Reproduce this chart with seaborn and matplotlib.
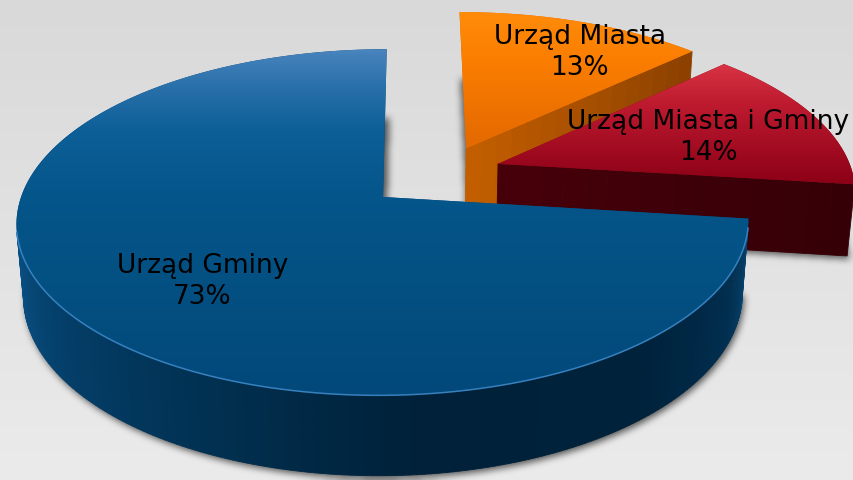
import numpy as np
import matplotlib
matplotlib.use("Agg")
import matplotlib.pyplot as plt
from matplotlib.path import Path
from matplotlib.patches import Polygon
from matplotlib.colors import to_rgb
import seaborn as sns

# ---------------- data ----------------
labels = ["Urząd Miasta", "Urząd Miasta i Gminy", "Urząd Gminy"]
shares = [13, 14, 73]

# ---------------- style ----------------
explode = [0.16, 0.16, 0.23]
label_r = [0.77, 0.64, 0.655]
label_nudge = [-5.6, -3.0, 4.0]
top_stops = [
    [(10, "#ff8c0a"), (60, "#fb7e00"), (150, "#e36800")],
    [(63, "#d93444"), (105, "#bd1a2f"), (185, "#8b0016")],
    [(48, "#4a85be"), (85, "#2b71ab"), (130, "#0d5f98"), (190, "#05568b"),
     (330, "#034d7e"), (400, "#02487a")],
]
arc_stops = [
    [(-360, "#9a4700"), (360, "#9a4700")],
    [(-360, "#3a0008"), (360, "#3a0008")],
    [(-270, "#0e5e95"), (-190, "#0e5e95"), (-170, "#0a5287"), (-145, "#04406b"),
     (-115, "#013152"), (-85, "#002139"), (-50, "#00223b"), (-25, "#012f50"),
     (-7, "#0b4a78")],
]
radial_cols = [("#c25e00", "#8c4100"), ("#46000a", "#360007"), ("#0a4a78", "#0a4a78")]
highlight = [None, None, "#3c88c8"]

W, H = 854, 480
CX, CY, FOC, DIST, XC = 412.0, 197.0, 2190.0, 6.05, 0.08
ELEV = np.deg2rad(27.9)
S, C = np.sin(ELEV), np.cos(ELEV)
THICK = 0.23

sns.set_theme(style="white")
plt.rcParams["font.family"] = ["DejaVu Sans"]


def cosd(a):
    return np.cos(np.deg2rad(a))


def sind(a):
    return np.sin(np.deg2rad(a))


def interp_colors(vals, stops):
    xs = [s[0] for s in stops]
    cols = np.array([to_rgb(s[1]) for s in stops])
    return np.stack([np.interp(vals, xs, cols[:, k]) for k in range(3)], axis=-1)


# slice angles (start at 12 o'clock, clockwise)
cum = np.concatenate([[0.0], np.cumsum(shares)]) / float(np.sum(shares))
geo = []
for i in range(len(shares)):
    t_hi = 90 - 360 * cum[i]
    t_lo = 90 - 360 * cum[i + 1]
    mid = 0.5 * (t_lo + t_hi)
    off = explode[i] * np.array([cosd(mid), sind(mid)])
    geo.append((t_lo, t_hi, mid, off))

ref = geo[2][3]  # camera aims near the tip of the big slice
cam = np.array([ref[0] + XC, ref[1] - DIST * C, DIST * S])


def project(X, Y, Z):
    X = np.asarray(X, float) - ref[0] - XC
    Y = np.asarray(Y, float) - ref[1]
    Z = np.asarray(Z, float)
    depth = DIST + Y * C - Z * S
    return CX + FOC * X / depth, CY - FOC * (Y * S + Z * C) / depth


def top_poly(i, z):
    t_lo, t_hi, mid, off = geo[i]
    n = max(10, int((t_hi - t_lo) / 1.0))
    t = np.linspace(t_lo, t_hi, n)
    xs = np.concatenate([[off[0]], off[0] + cosd(t)])
    ys = np.concatenate([[off[1]], off[1] + sind(t)])
    px, py = project(xs, ys, np.full_like(xs, z))
    return np.column_stack([px, py])


def facing(nrm, P):
    v = cam - P
    return np.dot(nrm, v) / np.linalg.norm(v) > 0.05


fig = plt.figure(figsize=(W / 100, H / 100), dpi=100)
ax = fig.add_axes([0, 0, 1, 1])
ax.set_xlim(0, W)
ax.set_ylim(H, 0)
ax.axis("off")

# background
yv = np.arange(H) + 0.5
bg = interp_colors(yv, [(0, "#d9d9d9"), (480, "#ebebeb")])[:, None, :]
ax.imshow(bg, extent=(0, W, H, 0), aspect="auto", zorder=0, interpolation="bilinear")

# soft shadow of the base
yy, xx = np.mgrid[0:H, 0:W]
pts = np.column_stack([xx.ravel() + 0.5, yy.ravel() + 0.5])
mask = np.zeros(H * W, bool)
for i in range(len(shares)):
    mask |= Path(top_poly(i, -THICK)).contains_points(pts)
mask = mask.reshape(H, W).astype(float)


def blur1d(a, r, axis):
    a = np.moveaxis(a, axis, -1)
    pad = np.pad(a, [(0, 0)] * (a.ndim - 1) + [(r + 1, r)], mode="edge")
    cs = np.cumsum(pad, axis=-1)
    out = (cs[..., 2 * r + 1:] - cs[..., :-2 * r - 1]) / (2 * r + 1)
    return np.moveaxis(out, -1, axis)


sh = np.zeros_like(mask)
dx, dy = 2, 3
sh[dy:, dx:] = mask[:-dy, :-dx]
for _ in range(3):
    sh = blur1d(blur1d(sh, 3, 0), 3, 1)
shadow = np.zeros((H, W, 4))
shadow[..., :3] = 0.22
shadow[..., 3] = 0.85 * sh
ax.imshow(shadow, extent=(0, W, H, 0), aspect="auto", zorder=1, interpolation="bilinear")

# slices, far to near
order = sorted(range(len(shares)),
               key=lambda i: -np.linalg.norm(np.array([geo[i][3][0], geo[i][3][1], 0]) - cam))
zo = 2
for i in order:
    t_lo, t_hi, mid, off = geo[i]
    faces = []
    # outer curved wall
    n = max(10, int((t_hi - t_lo) / 1.0))
    t = np.linspace(t_lo, t_hi, n)
    vis_arc = []
    for k in range(n - 1):
        tm = 0.5 * (t[k] + t[k + 1])
        nrm = np.array([cosd(tm), sind(tm), 0])
        P = np.array([off[0] + cosd(tm), off[1] + sind(tm), -THICK / 2])
        if np.dot(nrm, cam - P) > 1e-6:
            ta, tb = t[k], t[k + 1]
            X = off[0] + cosd(np.array([ta, tb, tb, ta]))
            Y = off[1] + sind(np.array([ta, tb, tb, ta]))
            Z = np.array([0, 0, -THICK, -THICK])
            px, py = project(X, Y, Z)
            col = interp_colors([tm], arc_stops[i])[0]
            faces.append((np.linalg.norm(cam - P), np.column_stack([px, py]), col))
            vis_arc.append((ta, tb))
    # radial cut walls
    for tt, nrm in ((t_lo, np.array([sind(t_lo), -cosd(t_lo), 0])),
                    (t_hi, np.array([-sind(t_hi), cosd(t_hi), 0]))):
        P = np.array([off[0] + 0.5 * cosd(tt), off[1] + 0.5 * sind(tt), -THICK / 2])
        if facing(nrm, P):
            m = 16
            pal = sns.blend_palette(list(radial_cols[i]), m)
            rr = np.linspace(0, 1, m + 1)
            for k in range(m):
                r0, r1 = rr[k], rr[k + 1]
                X = off[0] + cosd(tt) * np.array([r0, r1, r1, r0])
                Y = off[1] + sind(tt) * np.array([r0, r1, r1, r0])
                Z = np.array([0, 0, -THICK, -THICK])
                px, py = project(X, Y, Z)
                Pk = np.array([off[0] + (r0 + r1) / 2 * cosd(tt),
                               off[1] + (r0 + r1) / 2 * sind(tt), -THICK / 2])
                faces.append((np.linalg.norm(cam - Pk), np.column_stack([px, py]), pal[k]))
    faces.sort(key=lambda f: -f[0])
    for _, poly, col in faces:
        ax.add_patch(Polygon(poly, closed=True, facecolor=col, edgecolor=col,
                             lw=0.6, zorder=zo))
        zo += 1
    # top face with vertical gradient
    tp = top_poly(i, 0.0)
    base = Polygon(tp, closed=True, facecolor=top_stops[i][-1][1],
                   edgecolor="none", zorder=zo)
    ax.add_patch(base)
    zo += 1
    grad = interp_colors(yv, top_stops[i])[:, None, :]
    im = ax.imshow(grad, extent=(0, W, H, 0), aspect="auto", zorder=zo,
                   interpolation="bilinear")
    im.set_clip_path(Polygon(tp, closed=True, transform=ax.transData))
    zo += 1
    if highlight[i] and vis_arc:
        ta = np.linspace(vis_arc[0][0], vis_arc[-1][1], 200)
        px, py = project(off[0] + cosd(ta), off[1] + sind(ta), np.zeros_like(ta))
        ax.plot(px, py, color=highlight[i], lw=1.1, alpha=0.9, zorder=zo,
                solid_capstyle="round")
        zo += 1

# labels
for i in range(len(shares)):
    t_lo, t_hi, mid, off = geo[i]
    a = mid + label_nudge[i]
    lx, ly = project(off[0] + label_r[i] * cosd(a), off[1] + label_r[i] * sind(a), 0.0)
    ax.text(float(lx), float(ly), f"{labels[i]}\n{shares[i]}%", ha="center", va="center",
            fontsize=19, linespacing=1.25, color="black", zorder=500)

ax.set_xlim(0, W)
ax.set_ylim(H, 0)
fig.savefig("out.png", dpi=100)
